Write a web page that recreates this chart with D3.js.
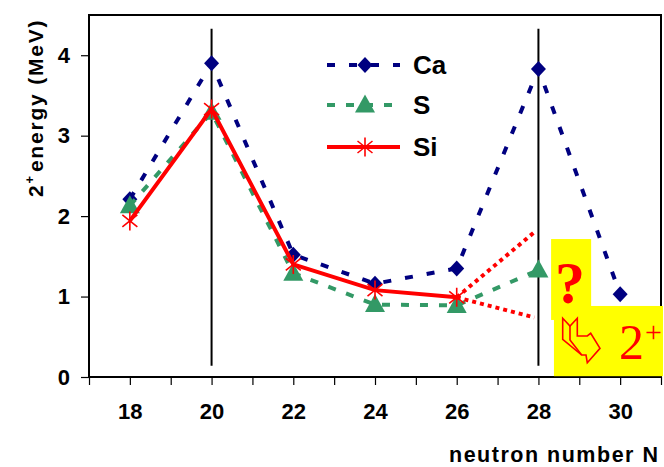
<!DOCTYPE html>
<meta charset="utf-8">
<style>
body { margin: 0; background: #fff; }
svg { display: block; font-family: "Liberation Sans", Arial, sans-serif; }
.axis text { font-size: 22px; font-weight: bold; fill: #000; }
.axis line { stroke: #000; stroke-width: 1.2; }
</style>
<svg width="664" height="467"></svg>
<script src="https://cdn.jsdelivr.net/npm/d3@7"></script>
<script>

// neutron numbers and first 2+ energies (MeV)
var neutrons = [18, 20, 22, 24, 26, 28, 30];
var caEnergy = [2.21, 3.90, 1.52, 1.16, 1.35, 3.83, 1.03];
var sEnergy  = [2.13, 3.29, 1.29, 0.90, 0.89, 1.33];
var siEnergy = [1.94, 3.33, 1.40, 1.08, 0.99];

// guesses for Si at N=28
var guessN = [26, 27.9];
var guessHigh = [0.99, 1.80];
var guessLow = [0.99, 0.74];

// magic numbers marked by vertical lines
var magicN = [20, 28];
var magicSpan = [0.14, 4.33];

var xTicks = d3.range(17, 32);
var yTicks = [0, 1, 2, 3, 4];

var svg = d3.select("svg");

var x = d3.scaleLinear().domain([17, 31]).range([89, 661]);
var y = d3.scaleLinear().domain([0, 4.5]).range([377, 15]);

// axes
svg.append("g")
    .attr("class", "axis")
    .attr("transform", "translate(0," + y(0) + ")")
    .call(d3.axisBottom(x)
      .tickValues(xTicks)
      .tickSize(8)
      .tickPadding(18)
      .tickFormat(function(d) { return d % 2 === 0 ? d : ""; }))
  .select(".domain").remove();

svg.append("g")
    .attr("class", "axis")
    .attr("transform", "translate(" + x(17) + ",0)")
    .call(d3.axisLeft(y)
      .tickValues(yTicks)
      .tickSize(8)
      .tickPadding(11)
      .tickFormat(d3.format("d")))
  .select(".domain").remove();

// plot frame
svg.append("rect")
    .attr("x", x(17))
    .attr("y", y(4.5))
    .attr("width", x(31) - x(17))
    .attr("height", y(0) - y(4.5))
    .attr("fill", "none")
    .attr("stroke", "#000")
    .attr("stroke-width", 2);

// axis titles
svg.append("text")
    .attr("x", 658)
    .attr("y", 462)
    .attr("text-anchor", "end")
    .attr("font-size", 21.5)
    .attr("font-weight", "bold")
    .attr("textLength", 209)
    .attr("lengthAdjust", "spacing")
    .text("neutron number N");

var ytitle = svg.append("text")
    .attr("transform", "translate(43,197) rotate(-90)")
    .attr("font-size", 21)
    .attr("font-weight", "bold")
    .attr("letter-spacing", 1.8);
ytitle.append("tspan").text("2");
ytitle.append("tspan").attr("font-size", 13).attr("dy", -9).text("+");
ytitle.append("tspan").attr("dy", 9).attr("dx", 2).text("energy (MeV)");

// vertical lines at N = 20, 28
svg.selectAll(".magic")
    .data(magicN)
  .enter().append("line")
    .attr("class", "magic")
    .attr("x1", function(d) { return x(d); })
    .attr("x2", function(d) { return x(d); })
    .attr("y1", y(magicSpan[1]))
    .attr("y2", y(magicSpan[0]))
    .attr("stroke", "#000")
    .attr("stroke-width", 2);

function pts(vals) {
  return vals.map(function(v, i) { return [neutrons[i], v]; });
}

var line = d3.line()
    .x(function(d) { return x(d[0]); })
    .y(function(d) { return y(d[1]); });

// marker shapes
function diamond(g) {
  g.append("path").attr("d", "M0,-8L7.5,0L0,8L-7.5,0Z").attr("fill", "#000080");
}
function triangle(g) {
  g.append("path").attr("d", "M0,-10.5L10,7.5L-10,7.5Z").attr("fill", "#339966");
}
function star(g) {
  g.append("path")
      .attr("d", "M0,-9.5V9.5M-7.5,-6L7.5,6M-7.5,6L7.5,-6")
      .attr("stroke", "#ff0000")
      .attr("stroke-width", 1.6)
      .attr("fill", "none");
}

var series = [
  {name: "Ca", vals: caEnergy, color: "#000080", dash: "8,14", marker: diamond},
  {name: "S",  vals: sEnergy,  color: "#339966", dash: "8,11", marker: triangle},
  {name: "Si", vals: siEnergy, color: "#ff0000", dash: null,   marker: star}
];

series.forEach(function(s) {
  svg.append("path")
      .datum(pts(s.vals))
      .attr("d", line)
      .attr("fill", "none")
      .attr("stroke", s.color)
      .attr("stroke-width", 4)
      .attr("stroke-dasharray", s.dash);

  svg.selectAll(".m-" + s.name)
      .data(pts(s.vals))
    .enter().append("g")
      .attr("class", "m-" + s.name)
      .attr("transform", function(d) { return "translate(" + x(d[0]) + "," + y(d[1]) + ")"; })
      .each(function() { s.marker(d3.select(this)); });
});

// dotted Si guesses toward N = 28
[guessHigh, guessLow].forEach(function(vals) {
  svg.append("path")
      .datum(vals.map(function(v, i) { return [guessN[i], v]; }))
      .attr("d", line)
      .attr("fill", "none")
      .attr("stroke", "#ff0000")
      .attr("stroke-width", 4)
      .attr("stroke-dasharray", "4,4");
});

// legend
var legend = svg.append("g");
series.forEach(function(s, i) {
  var ly = [65, 105, 147][i];
  legend.append("line")
      .attr("x1", 327).attr("x2", 400)
      .attr("y1", ly).attr("y2", ly)
      .attr("stroke", s.color)
      .attr("stroke-width", 4)
      .attr("stroke-dasharray", s.dash);
  s.marker(legend.append("g").attr("transform", "translate(365," + ly + ")"));
  legend.append("text")
      .attr("x", 413)
      .attr("y", ly + 9)
      .attr("font-size", 26)
      .attr("font-weight", "bold")
      .text(s.name);
});

// yellow note boxes
svg.append("rect")
    .attr("x", x(28.31)).attr("y", y(1.715))
    .attr("width", x(29.29) - x(28.31))
    .attr("height", y(0.709) - y(1.715))
    .attr("fill", "#ffff00");
svg.append("rect")
    .attr("x", x(28.38)).attr("y", y(0.883))
    .attr("width", x(31.05) - x(28.38))
    .attr("height", y(0.01) - y(0.883))
    .attr("fill", "#ffff00");

svg.append("text")
    .attr("x", 570)
    .attr("y", 303)
    .attr("text-anchor", "middle")
    .attr("font-family", "Liberation Serif, Times New Roman, serif")
    .attr("font-weight", "bold")
    .attr("font-size", 60)
    .attr("fill", "#ff0000")
    .text("?");

// hollow bent arrow
svg.append("path")
    .attr("d", "M562.7,318.3L570,326L577.3,318.3L577.3,336L587.3,336L590.7,333.3L600,348.3L587.3,362.7L586,355L581.7,355L562.7,339.3Z")
    .attr("fill", "none")
    .attr("stroke", "#ff0000")
    .attr("stroke-width", 1.6)
    .attr("stroke-linejoin", "miter");
svg.append("path")
    .attr("d", "M570,326V340L581.7,355")
    .attr("fill", "none")
    .attr("stroke", "#ff0000")
    .attr("stroke-width", 1.6);

var two = svg.append("text")
    .attr("x", 619)
    .attr("y", 359)
    .attr("font-family", "Liberation Serif, Times New Roman, serif")
    .attr("font-size", 50)
    .attr("fill", "#ff0000");
two.append("tspan").text("2");
two.append("tspan").attr("font-size", 30).attr("dy", -17).attr("dx", 1).text("+");

</script>
